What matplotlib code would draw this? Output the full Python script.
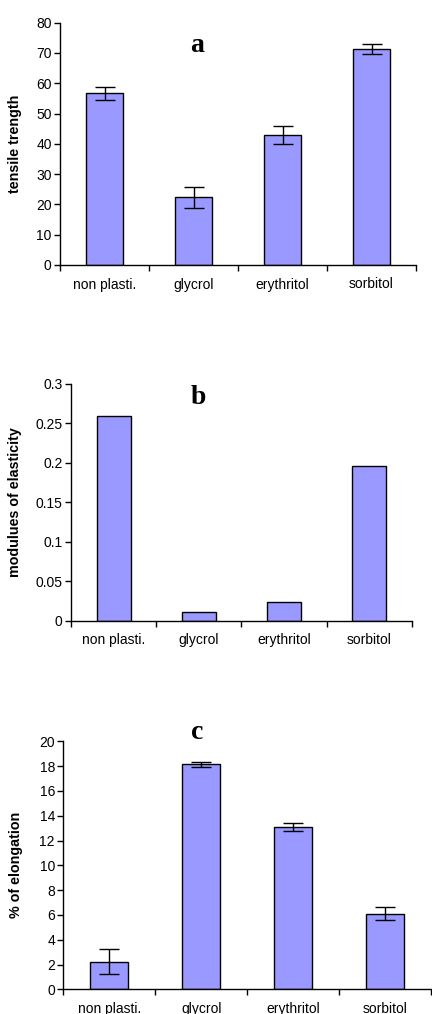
import matplotlib
matplotlib.use("Agg")
import matplotlib.pyplot as plt
import numpy as np

categories = ["non plasti.", "glycrol", "erythritol", "sorbitol"]

tensile = [56.7, 22.4, 43.0, 71.3]
tensile_err = [2.1, 3.5, 3.0, 1.7]

modulus = [0.260, 0.0106, 0.0237, 0.196]

elong = [2.23, 18.15, 13.12, 6.10]
elong_err = [1.0, 0.2, 0.33, 0.5]

W, H = 432, 1014
fig = plt.figure(figsize=(W / 100, H / 100), dpi=100)
plt.rcParams['font.family'] = ['Liberation Sans', 'DejaVu Sans']

bar_color = "#9999FF"


def px_axes(left, right, top, bottom):
    return fig.add_axes([left / W, 1 - bottom / H, (right - left) / W, (bottom - top) / H])


def style(ax, ylim, yticks, ytl, ylabel, letter, letter_xy):
    ax.set_xlim(-0.5, 3.5)
    ax.set_ylim(*ylim)
    ax.set_yticks(yticks)
    ax.set_yticklabels(ytl, fontsize=10)
    ax.set_xticks(range(4))
    ax.set_xticklabels(categories, fontsize=10)
    ax.tick_params(axis='x', which='major', length=0, pad=9)
    ax.set_xticks(np.arange(-0.5, 4, 1), minor=True)
    ax.tick_params(axis='x', which='minor', length=4, width=1)
    ax.tick_params(axis='y', length=4, width=1, pad=2)
    for s in ['top', 'right']:
        ax.spines[s].set_visible(False)
    for s in ['left', 'bottom']:
        ax.spines[s].set_linewidth(1)
    ax.set_ylabel(ylabel, fontsize=10.3, fontweight='bold')
    fig.text(letter_xy[0] / W, 1 - letter_xy[1] / H, letter, fontsize=20,
             fontweight='bold', family='Liberation Serif', ha='center', va='baseline')


x = np.arange(4)

# a
ax1 = px_axes(60, 416, 22.7, 265)
ax1.bar(x, tensile, width=0.41, color=bar_color, edgecolor='black', linewidth=1,
        yerr=tensile_err, capsize=7, error_kw=dict(elinewidth=1, capthick=1, ecolor='black'))
style(ax1, (0, 80), range(0, 81, 10), [str(v) for v in range(0, 81, 10)],
      "tensile trength", "a", (197, 51.7))
ax1.yaxis.set_label_coords((22.5 - 60) / 356, 0.5)

# b
ax2 = px_axes(71, 411.7, 384, 620.7)
ax2.bar(x, modulus, width=0.40, color=bar_color, edgecolor='black', linewidth=1)
bt = [0, 0.05, 0.1, 0.15, 0.2, 0.25, 0.3]
style(ax2, (0, 0.3), bt, ["0", "0.05", "0.1", "0.15", "0.2", "0.25", "0.3"],
      "modulues of elasticity", "b", (198, 404))
ax2.yaxis.set_label_coords((22.5 - 71) / 340.7, 0.5)

# c
ax3 = px_axes(63.3, 431, 741.3, 989.3)
ax3.bar(x, elong, width=0.41, color=bar_color, edgecolor='black', linewidth=1,
        yerr=elong_err, capsize=7, error_kw=dict(elinewidth=1, capthick=1, ecolor='black'))
style(ax3, (0, 20), range(0, 21, 2), [str(v) for v in range(0, 21, 2)],
      "% of elongation", "c", (197, 739.3))
ax3.yaxis.set_label_coords((22.5 - 63.3) / 367.7, 0.5)

fig.savefig("out.png", dpi=100)
